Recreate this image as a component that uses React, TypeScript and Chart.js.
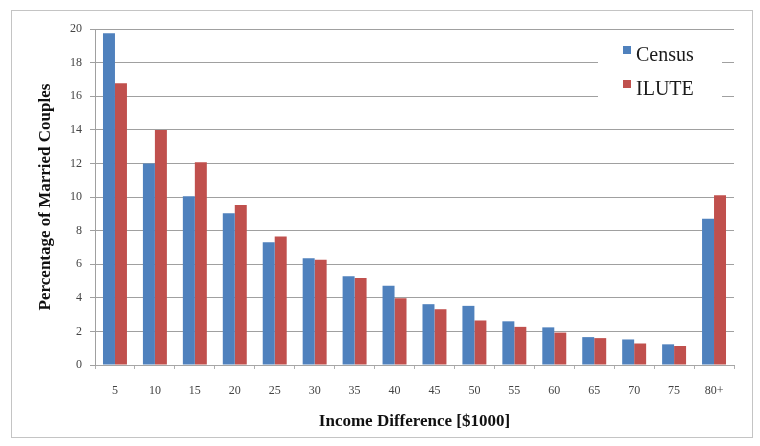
import React, { useEffect, useRef } from "react";
import { Chart, registerables } from "chart.js";

Chart.register(...registerables);

const categories = ["5", "10", "15", "20", "25", "30", "35", "40", "45", "50", "55", "60", "65", "70", "75", "80+"];
const censusValues = [19.75, 12.0, 10.05, 9.03, 7.3, 6.35, 5.28, 4.72, 3.62, 3.52, 2.6, 2.24, 1.66, 1.52, 1.23, 8.7];
const iluteValues = [16.77, 13.99, 12.07, 9.52, 7.65, 6.27, 5.18, 3.97, 3.32, 2.65, 2.27, 1.93, 1.6, 1.28, 1.13, 10.1];
const seriesNames = ["Census", "ILUTE"];
const seriesColors = ["#4F81BD", "#C0504D"];
const xTitle = "Income Difference [$1000]";
const yTitle = "Percentage of Married Couples";

const SERIF = "'Liberation Serif', 'Times New Roman', serif";

const framePlugin = {
  id: "frame",
  beforeDraw(chart: any) {
    const { ctx, width, height } = chart;
    ctx.save();
    ctx.fillStyle = "#ffffff";
    ctx.fillRect(0, 0, width, height);
    ctx.strokeStyle = "#c4c4c4";
    ctx.lineWidth = 1;
    ctx.strokeRect(11.5, 10.5, 741, 427);
    ctx.restore();
  },
};

const legendPlugin = {
  id: "insideLegend",
  afterDatasetsDraw(chart: any) {
    const { ctx } = chart;
    ctx.save();
    ctx.fillStyle = "#ffffff";
    ctx.fillRect(598, 38, 124, 72);
    ctx.font = `20px ${SERIF}`;
    ctx.textBaseline = "alphabetic";
    ctx.textAlign = "left";
    chart.data.datasets.forEach((ds: any, i: number) => {
      const baseY = 61 + i * 34;
      ctx.fillStyle = ds.backgroundColor;
      ctx.fillRect(623, baseY - 15, 8, 8);
      ctx.fillStyle = "#1a1a1a";
      ctx.fillText(ds.label, 636, baseY);
    });
    ctx.restore();
  },
};

export default function App() {
  const canvasRef = useRef<HTMLCanvasElement | null>(null);

  useEffect(() => {
    if (!canvasRef.current) return;
    const chart = new Chart(canvasRef.current, {
      type: "bar",
      data: {
        labels: categories,
        datasets: [
          {
            label: seriesNames[0],
            data: censusValues,
            backgroundColor: seriesColors[0],
            categoryPercentage: 0.6,
            barPercentage: 1.0,
          },
          {
            label: seriesNames[1],
            data: iluteValues,
            backgroundColor: seriesColors[1],
            categoryPercentage: 0.6,
            barPercentage: 1.0,
          },
        ],
      },
      options: {
        animation: false,
        responsive: false,
        maintainAspectRatio: false,
        layout: { padding: { left: 0, top: 29, right: 26, bottom: 0 } },
        plugins: {
          legend: { display: false },
          tooltip: { enabled: false },
        },
        scales: {
          x: {
            afterFit: (s: any) => {
              s.height = 81;
            },
            grid: {
              display: true,
              drawOnChartArea: false,
              offset: true,
              tickLength: 4,
              color: "#b0b0b0",
            },
            border: { color: "#a6a6a6" },
            ticks: {
              padding: 15,
              color: "#444444",
              font: { family: SERIF, size: 12 },
            },
            title: {
              display: true,
              text: xTitle,
              color: "#111111",
              font: { family: SERIF, size: 17, weight: "bold" },
              padding: { top: 0, bottom: 14 },
            },
          },
          y: {
            min: 0,
            max: 20,
            afterFit: (s: any) => {
              s.width = 95;
            },
            ticks: {
              stepSize: 2,
              padding: 8,
              color: "#444444",
              font: { family: SERIF, size: 12 },
            },
            grid: { color: "#a0a0a0", tickLength: 5 },
            border: { color: "#a0a0a0" },
            title: {
              display: true,
              text: yTitle,
              color: "#111111",
              font: { family: SERIF, size: 17, weight: "bold" },
              padding: { top: 35, bottom: 0 },
            },
          },
        },
      },
      plugins: [framePlugin, legendPlugin],
    });
    return () => chart.destroy();
  }, []);

  return (
    <div style={{ position: "fixed", left: 0, top: 0, width: 760, height: 446 }}>
      <canvas ref={canvasRef} width={760} height={446} style={{ display: "block" }} />
    </div>
  );
}
